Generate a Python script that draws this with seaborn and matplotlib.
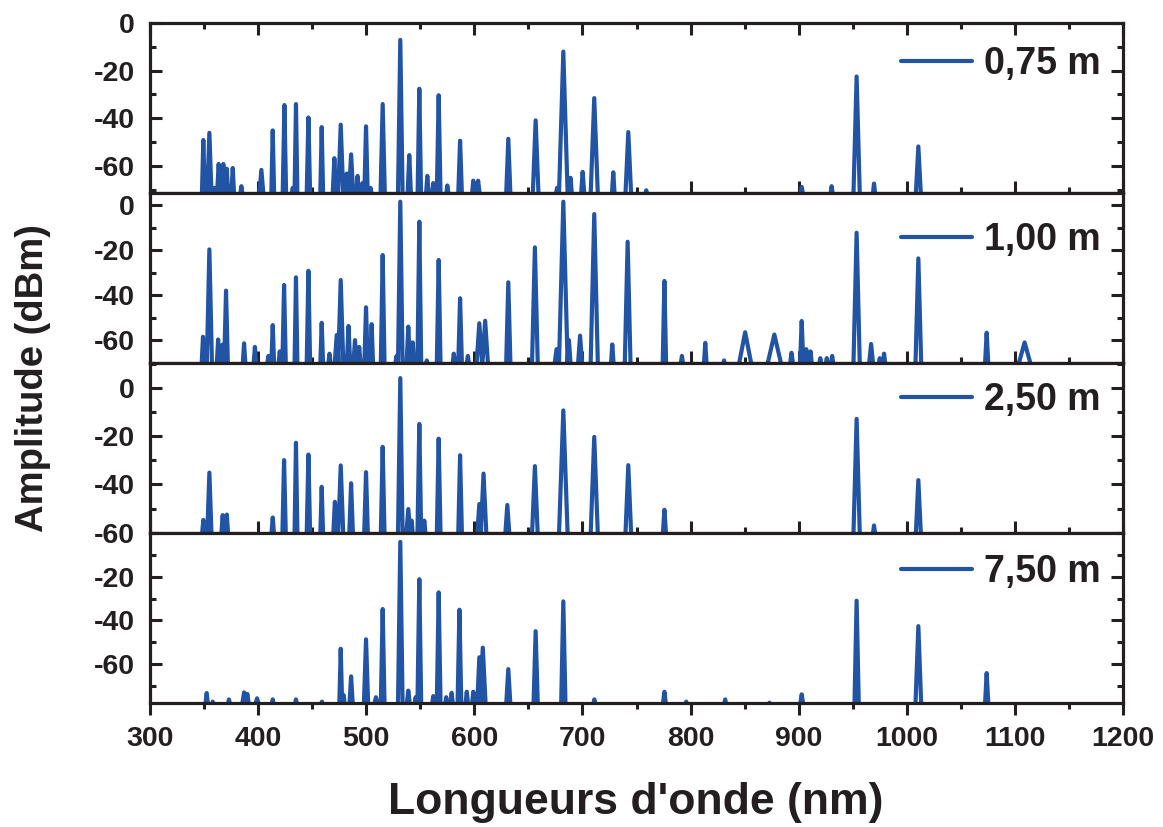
import numpy as np
import pandas as pd
import matplotlib
matplotlib.use('Agg')
import matplotlib.pyplot as plt
import seaborn as sns
from matplotlib.ticker import MultipleLocator

# fiber lengths (legend labels)
labels = ['0,75 m', '1,00 m', '2,50 m', '7,50 m']

# peaks: wavelength (nm), level (dBm), half base width (nm)
wl_075 = [349.3, 354.9, 359.5, 363.5, 367.8, 371, 376.5, 384.5, 403, 413.5, 424.3, 432, 435, 446.5,
          458.8, 470.5, 476.4, 482, 486, 492, 496.5, 499.8, 504, 515.2, 531.5, 539.8, 549.1, 556.5,
          562, 567, 575, 586.8, 599, 603.5, 631.4, 656.7, 676.5, 682.3, 689, 700.2, 710.9, 728.5,
          742.4, 759, 902.8, 930.5, 953.6, 969.7, 1010.7]
amp_075 = [-49, -46, -69, -59, -59, -61, -60.7, -68.3, -61.5, -45, -34.4, -69, -34, -39.6,
           -43.6, -56.6, -42.6, -63, -55, -64, -67, -43.3, -69, -34, -7.2, -55.3, -27.6, -64,
           -67, -30.3, -68, -49.3, -66, -66, -48.5, -40.8, -69, -12.1, -64.8, -62.3, -31.5, -62.5,
           -45.7, -70, -68.6, -68.3, -22.5, -67.2, -51.7]
hw_075 = [1.0, 1.5, 1.0, 1.2, 1.2, 1.0, 1.0, 1.0, 1.5, 1.0, 1.2, 1.0, 1.0, 1.2,
          1.0, 1.2, 1.8, 1.2, 1.5, 1.0, 1.0, 1.2, 1.0, 1.5, 1.6, 1.2, 1.2, 1.0,
          1.0, 1.3, 1.0, 1.3, 1.0, 1.2, 1.5, 2.0, 1.0, 3.0, 1.0, 1.2, 2.5, 1.0,
          2.0, 1.0, 1.2, 1.0, 2.2, 1.0, 1.8]

wl_100 = [349, 354.9, 363, 367, 370.3, 387, 397, 409.5, 413.5, 420, 424, 435, 446.5, 458.8,
          466, 472.7, 476.4, 483.6, 489.6, 493.5, 499.8, 505, 515.2, 528, 531.5, 538.9, 543,
          549.1, 556, 567, 581, 586.8, 594, 604.6, 610, 631.4, 656, 676, 682.3, 687.5, 697.8,
          710.9, 727.6, 741.8, 775.8, 792, 813.6, 831, 850.5, 877.5, 893.4, 902.8, 907, 911,
          920, 926, 931, 953.6, 967, 975, 979, 1010.7, 1073.9, 1109]
amp_100 = [-58.5, -19.7, -59.7, -62, -38, -61.4, -63, -67, -53.3, -65, -35.5, -32.1, -29.2, -52.3,
           -66, -57.7, -33.3, -53.7, -60, -63, -45.4, -52.9, -22.2, -67, 1.5, -54, -61,
           -7.4, -69, -24.4, -66, -41.4, -67, -52.5, -51.4, -34.3, -18.8, -64, 1.5, -60, -58,
           -4, -61.9, -16.3, -33.7, -67, -61.2, -69, -56.5, -57.5, -65.6, -51.5, -64, -65,
           -68, -68, -67, -12.3, -61.7, -68, -66, -23.7, -56.7, -61]
hw_100 = [1.0, 1.8, 1.0, 1.0, 1.3, 1.0, 1.0, 1.0, 1.0, 1.0, 1.2, 1.0, 1.2, 1.0,
          1.0, 1.5, 1.8, 1.2, 1.2, 1.0, 1.2, 1.0, 1.3, 1.0, 1.6, 1.2, 1.0,
          1.3, 1.0, 1.3, 1.0, 1.3, 1.0, 2.0, 2.0, 1.5, 2.0, 1.5, 3.0, 1.2, 1.5,
          2.5, 1.0, 2.0, 1.2, 1.0, 1.0, 1.0, 4.5, 5.0, 1.2, 1.2, 1.2, 1.0,
          1.0, 1.0, 1.0, 2.2, 1.5, 1.0, 1.0, 2.0, 1.2, 4.5]

wl_250 = [349.3, 354.9, 367.2, 371, 413.5, 424, 435, 446.5, 458.8, 471, 476.4, 486, 499.8,
          515.2, 531.5, 538.9, 542, 549.1, 553.7, 567, 586.8, 604.6, 608.5, 630.5, 656,
          682.3, 710.9, 742.4, 775.8, 953.6, 969.7, 1010.7]
amp_250 = [-54.7, -35.1, -52.7, -52.5, -53.7, -29.9, -22.7, -27.6, -41, -47.2, -32.1, -39.5, -34.9,
           -24.4, 4.1, -50.2, -55, -14.9, -55, -21, -27.9, -48.1, -35.5, -48.5, -32.4,
           -9.3, -20.3, -32, -50.5, -12.8, -57, -38.2]
hw_250 = [1.0, 1.5, 1.0, 1.0, 1.0, 1.2, 1.0, 1.2, 1.0, 1.2, 1.8, 1.3, 1.3,
          1.3, 1.6, 1.5, 1.0, 1.3, 1.0, 1.3, 1.3, 1.5, 2.0, 1.5, 2.0,
          3.0, 2.5, 2.0, 1.2, 2.2, 1.0, 1.8]

wl_750 = [352.4, 358, 373, 387, 390, 399, 413.5, 435, 459, 476.4, 479, 486, 499.8, 509, 515.2,
          531.5, 538.9, 545.7, 549.1, 562, 567, 574, 579, 586.2, 593, 599, 604.6, 607.8, 631.4,
          656.7, 682.3, 711, 775.8, 796, 832, 873, 902.8, 953.6, 1010.7, 1073.9]
amp_750 = [-73.1, -77, -76, -72.8, -73.5, -75.5, -76, -76, -77, -52.9, -74, -65.5, -48.6, -75, -34.8,
           -4.2, -72, -75, -21.2, -74.5, -27.2, -75, -73, -35.1, -72.5, -72.5, -56.8, -52.4, -62.2,
           -44.9, -31.3, -76, -72.5, -77, -76, -77.5, -73.7, -31, -42.6, -64]
hw_750 = [1.0, 1.0, 1.0, 1.5, 1.2, 1.5, 1.0, 1.0, 1.0, 1.0, 1.0, 1.2, 1.5, 1.5, 1.3,
          1.6, 1.2, 1.0, 1.3, 1.0, 1.3, 1.0, 1.0, 1.3, 1.0, 1.0, 1.5, 2.0, 1.5,
          1.5, 1.5, 1.0, 1.2, 1.0, 1.0, 0.8, 1.2, 1.5, 2.0, 1.2]

series = [(wl_075, amp_075, hw_075), (wl_100, amp_100, hw_100),
          (wl_250, amp_250, hw_250), (wl_750, amp_750, hw_750)]
ylims = [(-71, 0), (-70, 5.5), (-60, 10.5), (-77.5, 0)]
leg_y = [0.757, 0.722, 0.78, 0.769]

blue = '#2254a5'
ink = '#231f20'


def trace(wl, amp, hw, floor, spread=1.35):
    xs, ys = [], []
    for w, a, h in zip(wl, amp, hw):
        xs += [w - h * spread, w, w + h * spread]
        ys += [floor, a, floor]
    return pd.DataFrame({'wl': xs, 'amp': ys})


sns.set_theme(style='ticks')
plt.rcParams['font.family'] = ['Liberation Sans', 'DejaVu Sans']
plt.rcParams['font.weight'] = 'bold'
plt.rcParams['axes.unicode_minus'] = False
plt.rcParams['text.color'] = ink
plt.rcParams['xtick.color'] = ink
plt.rcParams['ytick.color'] = ink
plt.rcParams['axes.edgecolor'] = ink

fig, axes = plt.subplots(4, 1, sharex=True, figsize=(11.63, 8.27), dpi=100)
fig.subplots_adjust(left=0.129, right=0.9656, top=0.9726, bottom=0.1503, hspace=0)

for i, ax in enumerate(axes):
    wl, amp, hw = series[i]
    lo, hi = ylims[i]
    df = trace(wl, amp, hw, lo - 1.5)
    sns.lineplot(data=df, x='wl', y='amp', ax=ax, color=blue, lw=3.0, sort=False,
                 estimator=None, label=labels[i])
    ax.lines[0].set_solid_joinstyle('round')
    ax.set_xlim(300, 1200)
    ax.set_ylim(lo, hi)
    ax.set_xlabel('')
    ax.set_ylabel('')
    ax.xaxis.set_major_locator(MultipleLocator(100))
    ax.xaxis.set_minor_locator(MultipleLocator(50))
    if i == 3:
        ax.set_yticks([-60, -40, -20])
    else:
        ax.yaxis.set_major_locator(MultipleLocator(20))
    ax.yaxis.set_minor_locator(MultipleLocator(10))
    for s in ax.spines.values():
        s.set_linewidth(2.3)
        s.set_zorder(5)
    ax.tick_params(which='both', direction='in', left=True, right=True, bottom=True,
                   top=(i == 0), width=2.2)
    ax.tick_params(which='major', length=8.6)
    ax.tick_params(which='minor', length=4.3)
    ax.tick_params(axis='y', labelsize=20.5, pad=11)
    ax.tick_params(axis='x', labelsize=20.5, pad=8.5)
    if i == 3:
        ax.tick_params(axis='x', which='both', direction='out')
    for lab in ax.get_xticklabels() + ax.get_yticklabels():
        lab.set_fontweight('bold')
    ax.legend(loc='center left', bbox_to_anchor=(0.772, leg_y[i]), frameon=False,
              handlelength=1.9, handletextpad=0.3, borderpad=0, borderaxespad=0,
              prop=dict(weight='bold', size=27))

fig.text(0.0284, 0.543, 'Amplitude (dBm)', rotation=90, fontsize=27.5, fontweight='bold',
         ha='center', va='center')
fig.text(0.547, 0.0302, "Longueurs d'onde (nm)", fontsize=32, fontweight='bold',
         ha='center', va='center')

fig.savefig('out.png', dpi=100)
